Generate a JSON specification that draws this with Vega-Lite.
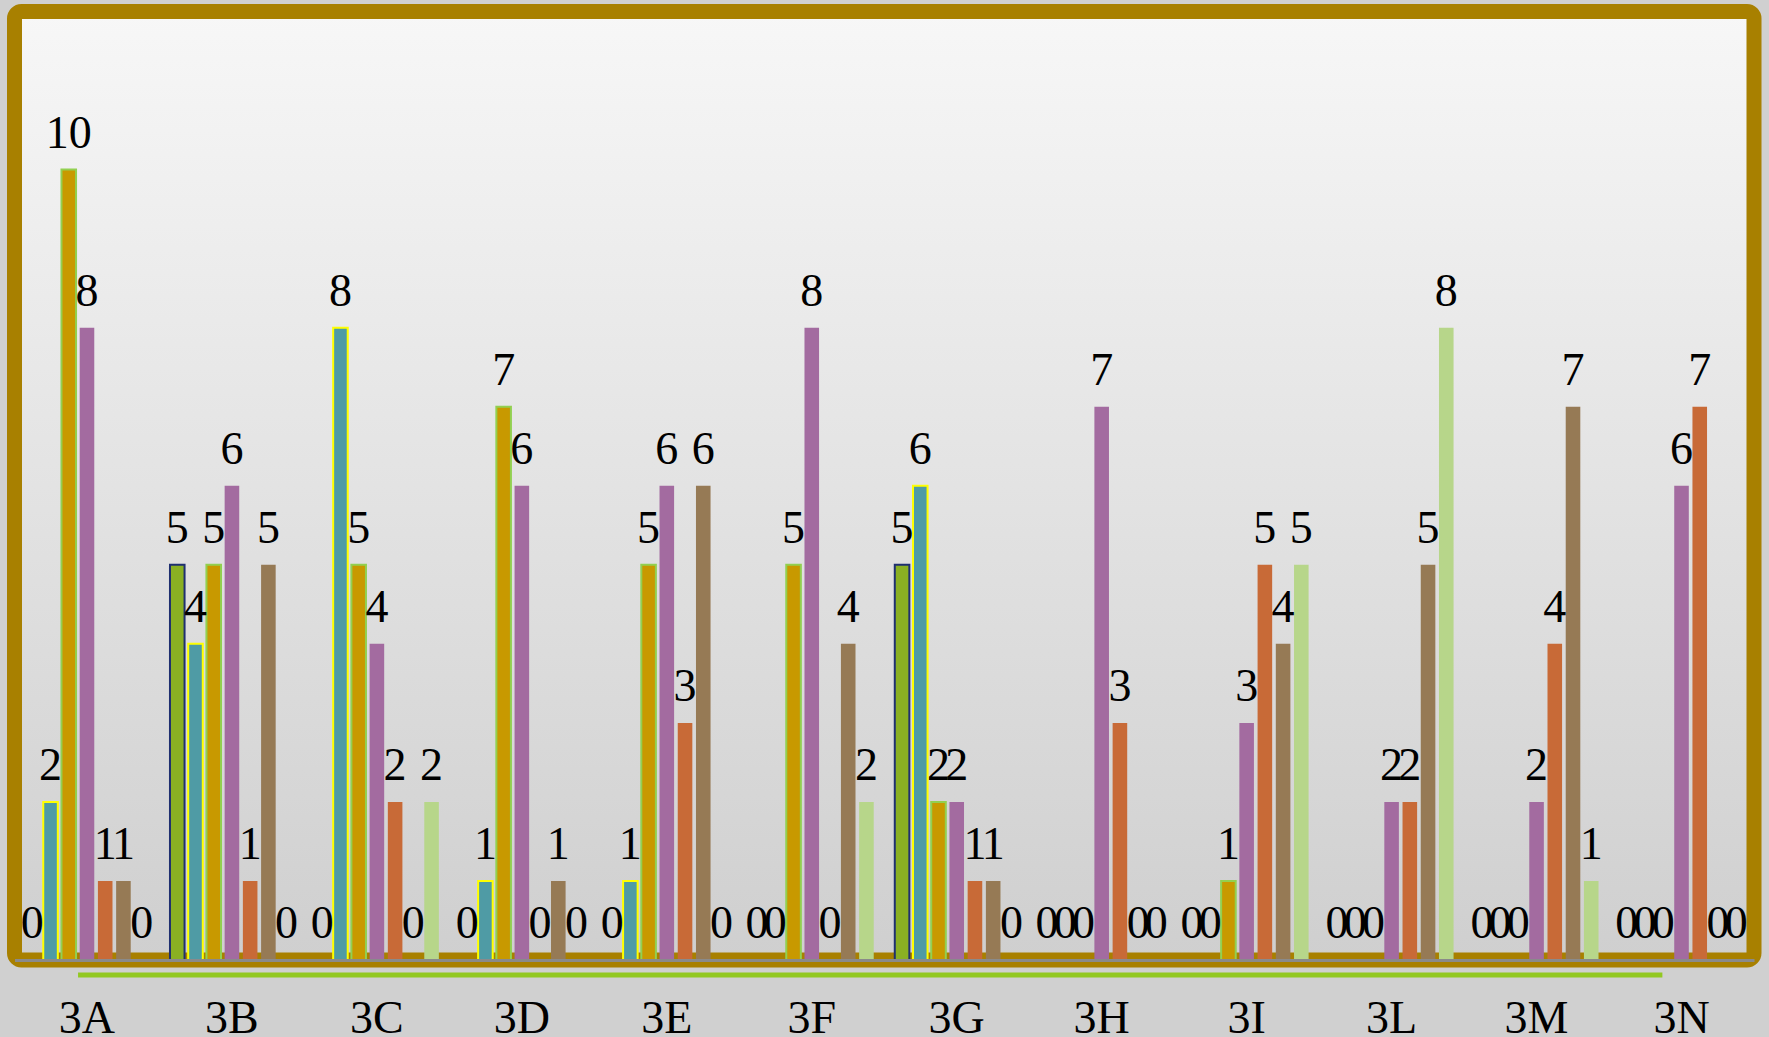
{
  "$schema": "https://vega.github.io/schema/vega-lite/v6.json",
  "width": 1739.5,
  "height": 948.5,
  "autosize": {"type": "none"},
  "padding": {"left": 14.5, "top": 11.5, "right": 15, "bottom": 77},
  "background": "#D0D0D0",
  "config": {
    "view": {
      "fill": {"gradient": "linear", "x1": 0, "y1": 0, "x2": 0, "y2": 1, "stops": [{"offset": 0, "color": "#F7F7F7"}, {"offset": 1, "color": "#CFCFCF"}]},
      "stroke": "#A88000",
      "strokeWidth": 15,
      "cornerRadius": 7
    },
    "font": "Liberation Serif"
  },
  "data": {
    "values": [
      {"g": "3A", "s": "S1", "v": 0}, {"g": "3A", "s": "S2", "v": 2}, {"g": "3A", "s": "S3", "v": 10}, {"g": "3A", "s": "S4", "v": 8}, {"g": "3A", "s": "S5", "v": 1}, {"g": "3A", "s": "S6", "v": 1}, {"g": "3A", "s": "S7", "v": 0},
      {"g": "3B", "s": "S1", "v": 5}, {"g": "3B", "s": "S2", "v": 4}, {"g": "3B", "s": "S3", "v": 5}, {"g": "3B", "s": "S4", "v": 6}, {"g": "3B", "s": "S5", "v": 1}, {"g": "3B", "s": "S6", "v": 5}, {"g": "3B", "s": "S7", "v": 0},
      {"g": "3C", "s": "S1", "v": 0}, {"g": "3C", "s": "S2", "v": 8}, {"g": "3C", "s": "S3", "v": 5}, {"g": "3C", "s": "S4", "v": 4}, {"g": "3C", "s": "S5", "v": 2}, {"g": "3C", "s": "S6", "v": 0}, {"g": "3C", "s": "S7", "v": 2},
      {"g": "3D", "s": "S1", "v": 0}, {"g": "3D", "s": "S2", "v": 1}, {"g": "3D", "s": "S3", "v": 7}, {"g": "3D", "s": "S4", "v": 6}, {"g": "3D", "s": "S5", "v": 0}, {"g": "3D", "s": "S6", "v": 1}, {"g": "3D", "s": "S7", "v": 0},
      {"g": "3E", "s": "S1", "v": 0}, {"g": "3E", "s": "S2", "v": 1}, {"g": "3E", "s": "S3", "v": 5}, {"g": "3E", "s": "S4", "v": 6}, {"g": "3E", "s": "S5", "v": 3}, {"g": "3E", "s": "S6", "v": 6}, {"g": "3E", "s": "S7", "v": 0},
      {"g": "3F", "s": "S1", "v": 0}, {"g": "3F", "s": "S2", "v": 0}, {"g": "3F", "s": "S3", "v": 5}, {"g": "3F", "s": "S4", "v": 8}, {"g": "3F", "s": "S5", "v": 0}, {"g": "3F", "s": "S6", "v": 4}, {"g": "3F", "s": "S7", "v": 2},
      {"g": "3G", "s": "S1", "v": 5}, {"g": "3G", "s": "S2", "v": 6}, {"g": "3G", "s": "S3", "v": 2}, {"g": "3G", "s": "S4", "v": 2}, {"g": "3G", "s": "S5", "v": 1}, {"g": "3G", "s": "S6", "v": 1}, {"g": "3G", "s": "S7", "v": 0},
      {"g": "3H", "s": "S1", "v": 0}, {"g": "3H", "s": "S2", "v": 0}, {"g": "3H", "s": "S3", "v": 0}, {"g": "3H", "s": "S4", "v": 7}, {"g": "3H", "s": "S5", "v": 3}, {"g": "3H", "s": "S6", "v": 0}, {"g": "3H", "s": "S7", "v": 0},
      {"g": "3I", "s": "S1", "v": 0}, {"g": "3I", "s": "S2", "v": 0}, {"g": "3I", "s": "S3", "v": 1}, {"g": "3I", "s": "S4", "v": 3}, {"g": "3I", "s": "S5", "v": 5}, {"g": "3I", "s": "S6", "v": 4}, {"g": "3I", "s": "S7", "v": 5},
      {"g": "3L", "s": "S1", "v": 0}, {"g": "3L", "s": "S2", "v": 0}, {"g": "3L", "s": "S3", "v": 0}, {"g": "3L", "s": "S4", "v": 2}, {"g": "3L", "s": "S5", "v": 2}, {"g": "3L", "s": "S6", "v": 5}, {"g": "3L", "s": "S7", "v": 8},
      {"g": "3M", "s": "S1", "v": 0}, {"g": "3M", "s": "S2", "v": 0}, {"g": "3M", "s": "S3", "v": 0}, {"g": "3M", "s": "S4", "v": 2}, {"g": "3M", "s": "S5", "v": 4}, {"g": "3M", "s": "S6", "v": 7}, {"g": "3M", "s": "S7", "v": 1},
      {"g": "3N", "s": "S1", "v": 0}, {"g": "3N", "s": "S2", "v": 0}, {"g": "3N", "s": "S3", "v": 0}, {"g": "3N", "s": "S4", "v": 6}, {"g": "3N", "s": "S5", "v": 7}, {"g": "3N", "s": "S6", "v": 0}, {"g": "3N", "s": "S7", "v": 0}
    ]
  },
  "layer": [
    {
      "mark": {"type": "bar", "strokeWidth": 2},
      "encoding": {
        "x": {
          "field": "g", "type": "nominal", "sort": null,
          "scale": {"paddingInner": 0.12, "paddingOuter": 0.06},
          "axis": {
            "title": null, "labelAngle": 0, "ticks": false, "tickSize": 0, "grid": false,
            "domain": true, "domainColor": "#8A8A8A", "domainWidth": 3,
            "labelFont": "Liberation Serif", "labelFontSize": 46, "labelColor": "#000000",
            "labelPadding": 72, "labelBaseline": "alphabetic", "zindex": 1
          }
        },
        "xOffset": {"field": "s", "type": "nominal", "sort": null, "scale": {"paddingInner": 0.2, "paddingOuter": 0.1}},
        "y": {"field": "v", "type": "quantitative", "scale": {"domain": [0, 12], "nice": false}, "axis": null},
        "color": {
          "field": "s", "type": "nominal", "legend": null,
          "scale": {"domain": ["S1", "S2", "S3", "S4", "S5", "S6", "S7"], "range": ["#8AB023", "#4F9BA5", "#C89900", "#A36BA0", "#C86A37", "#967A55", "#B7D68A"]}
        },
        "stroke": {
          "field": "s", "type": "nominal", "legend": null,
          "scale": {"domain": ["S1", "S2", "S3", "S4", "S5", "S6", "S7"], "range": ["#1F2F70", "#FFFF00", "#92D050", "transparent", "transparent", "transparent", "transparent"]}
        }
      }
    },
    {
      "mark": {"type": "text", "baseline": "alphabetic", "align": "center", "dy": -22, "fontSize": 46, "font": "Liberation Serif", "color": "#000000"},
      "encoding": {
        "x": {"field": "g", "type": "nominal", "sort": null},
        "xOffset": {"field": "s", "type": "nominal", "sort": null},
        "y": {"field": "v", "type": "quantitative", "scale": {"domain": [0, 12], "nice": false}},
        "text": {"field": "v", "type": "quantitative"}
      }
    },
    {
      "data": {"values": [{"line": "underline"}]},
      "mark": {"type": "rule", "color": "#92C822", "strokeWidth": 5},
      "encoding": {
        "x": {"datum": "3A", "type": "nominal", "bandPosition": 0.43},
        "x2": {"datum": "3N", "bandPosition": 0.35},
        "y": {"datum": -0.19, "type": "quantitative", "scale": {"domain": [0, 12], "nice": false}}
      }
    }
  ]
}
